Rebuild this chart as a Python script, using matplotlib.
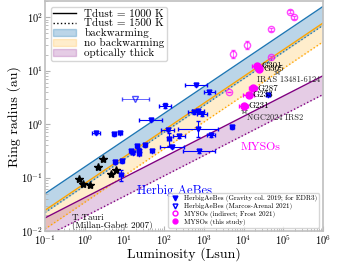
import matplotlib.pyplot as plt
import numpy as np
from matplotlib.lines import Line2D
from matplotlib.patches import Patch

plt.rcParams['font.family'] = 'serif'
plt.rcParams['font.serif'] = ['cmr10']
plt.rcParams['mathtext.fontset'] = 'cm'
plt.rcParams['axes.unicode_minus'] = False
plt.rcParams['axes.formatter.use_mathtext'] = True

# model bands: radius at L = 0.1 and L = 1e6 Lsun
lum_model = [0.1, 1e6]
bw_1000 = [0.05, 158]
bw_1500 = [0.0222, 70.3]
nobw_1000 = [0.0245, 77.5]
nobw_1500 = [0.0109, 34.5]
thick_1000 = [0.0176, 8.0]
thick_1500 = [0.0078, 3.56]

# T Tauri (Millan-Gabet 2007)
tt_lum = [0.72, 0.93, 1.37, 2.2, 2.9, 4.7, 6.3]
tt_rad = [0.093, 0.077, 0.074, 0.158, 0.226, 0.115, 0.137]

# HerbigAeBes (Gravity col. 2019)
hae_lum = [1.9, 5.5, 7.7, 46, 105, 640, 1380, 575, 725, 910, 123, 710, 130, 240,
           1500, 5100, 740, 14.5, 16, 21, 23, 23.5, 33, 49, 158, 5.9, 8.9, 8.1, 41000]
hae_rad = [0.69, 0.64, 0.69, 1.22, 2.22, 5.46, 3.93, 1.66, 1.75, 1.55, 0.79, 0.82, 0.52, 0.59,
           0.62, 0.88, 0.31, 0.31, 0.29, 0.385, 0.32, 0.28, 0.40, 0.32, 0.38, 0.195, 0.205, 0.11, 3.55]
hae_dlum = [0.1, 0.05, 0.05, 0.29, 0.15, 0.28, 0.13, 0.15, 0.15, 0.12, 0.17, 0.5, 0.05, 0.15,
            0.1, 0.05, 0.4, 0.05, 0.05, 0.05, 0.05, 0.05, 0.05, 0.05, 0.3, 0.05, 0.05, 0.05, 0.05]
hae_drad = [0.03, 0.03, 0.03, 0.03, 0.05, 0.03, 0.03, 0.03, 0.03, 0.03, 0.03, 0.15, 0.12, 0.03,
            0.03, 0.03, 0.03, 0.03, 0.03, 0.03, 0.03, 0.03, 0.03, 0.03, 0.03, 0.03, 0.03, 0.1, 0.03]

# HerbigAeBes (Marcos-Arenal 2021)
ma_lum = [18.6]
ma_rad = [2.96]
ma_dlum = [0.34]

# MYSOs (indirect; Frost 2021)
frost_lum = [5400, 12300, 48000, 144000, 182000, 48000, 4270]
frost_rad = [20.4, 30, 59.6, 126, 100, 18.2, 3.93]
frost_drad = [0.08, 0.07, 0.03, 0.03, 0.03, 0.02, 0.0]

# MYSOs (this study)
myso_names = ['G301', 'G305', 'G287', 'G233', 'G231']
myso_lum = [21800, 24500, 17400, 13500, 10200]
myso_rad = [12.3, 10.7, 4.66, 3.52, 2.22]
myso_dlum = [0.12, 0.05, 0.11, 0.14, 0.11]

# other MYSOs
other_names = ['IRAS 13481-6124', 'NGC2024 IRS2']
other_lum = [68000, 10000]
other_rad = [9.6, 1.78]


def dex_err(v, d):
    v = np.asarray(v, float)
    d = np.asarray(d, float)
    return [v - v / 10**d, v * 10**d - v]


fig = plt.figure(figsize=(3.6, 2.65), dpi=100)
ax = fig.add_axes([0.125, 0.128, 0.772, 0.868])

ax.fill_between(lum_model, bw_1000, bw_1500, color='C0', alpha=0.3, lw=0)
ax.plot(lum_model, bw_1000, color='C0', lw=1)
ax.plot(lum_model, bw_1500, color='C0', lw=1, ls=':')
ax.fill_between(lum_model, nobw_1000, nobw_1500, color='orange', alpha=0.2, lw=0)
ax.plot(lum_model, nobw_1000, color='orange', lw=1)
ax.plot(lum_model, nobw_1500, color='orange', lw=1, ls=':')
ax.fill_between(lum_model, thick_1000, thick_1500, color='purple', alpha=0.2, lw=0)
ax.plot(lum_model, thick_1000, color='purple', lw=1)
ax.plot(lum_model, thick_1500, color='purple', lw=1, ls=':')

ax.plot(tt_lum, tt_rad, '*', color='k', ms=6)

ax.errorbar(hae_lum, hae_rad, xerr=dex_err(hae_lum, hae_dlum), yerr=dex_err(hae_rad, hae_drad),
            fmt='v', color='blue', ms=3.5, lw=0.8, capsize=1.5)
ax.errorbar(ma_lum, ma_rad, xerr=dex_err(ma_lum, ma_dlum), fmt='v', mfc='none',
            color='blue', ms=4, lw=0.6, capsize=1.5, alpha=0.7)
ax.errorbar(frost_lum, frost_rad, yerr=dex_err(frost_rad, frost_drad), fmt='o', mfc='none',
            color='magenta', ms=4.5, lw=0.6, capsize=1.5, alpha=0.7)
ax.errorbar(myso_lum, myso_rad, xerr=dex_err(myso_lum, myso_dlum), fmt='o',
            color='magenta', ms=5, lw=0.8, capsize=1.5)
ax.plot(other_lum, other_rad, '*', mfc='none', mec='0.3', ms=4, mew=0.5)

for name, l, r in zip(myso_names, myso_lum, myso_rad):
    ax.annotate(name, (l, r), xytext=(3, 0), textcoords='offset points',
                fontsize=6.5, va='center', ha='left')
ax.text(21400, 6.8, other_names[0], fontsize=6, va='center', ha='left', color='0.15')
ax.text(12600, 1.33, other_names[1], fontsize=6, va='center', ha='left', color='0.15')

ax.text(8260, 0.37, 'MYSOs', color='magenta', fontsize=8.5, va='center')
ax.text(21, 0.056, 'Herbig AeBes', color='blue', fontsize=9, va='center')
ax.text(0.48, 0.018, 'T Tauri', fontsize=6.5, va='center')
ax.text(0.48, 0.0129, '(Millan-Gabet 2007)', fontsize=6.5, va='center')

ax.set_xscale('log')
ax.set_yscale('log')
ax.set_xlim(1e-1, 1e6)
ax.set_ylim(1e-2, 2e2)
ax.set_xticks([10.0**k for k in range(-1, 7)])
ax.set_xlabel('Luminosity (Lsun)', fontsize=10, labelpad=0)
ax.set_ylabel('Ring radius (au)', fontsize=10, labelpad=0)
ax.tick_params(labelsize=7.5, colors='0.7', labelcolor='k', which='both', pad=1.5,
               direction='in')
for s in ax.spines.values():
    s.set_color('0.75')
    s.set_linewidth(1.2)

h1 = [Line2D([], [], color='k', lw=1), Line2D([], [], color='k', lw=1, ls=':'),
      Patch(color='C0', alpha=0.3), Patch(color='orange', alpha=0.2),
      Patch(color='purple', alpha=0.2)]
leg1 = ax.legend(h1, ['Tdust = 1000 K', 'Tdust = 1500 K', 'backwarming', 'no backwarming',
                      'optically thick'], loc='upper left', fontsize=8, labelspacing=0.0,
                 handleheight=0.6, borderpad=0.25)
ax.add_artist(leg1)

h2 = [Line2D([], [], marker='v', color='blue', ls='none', ms=3.5),
      Line2D([], [], marker='v', mfc='none', color='blue', ls='none', ms=3.5),
      Line2D([], [], marker='o', mfc='none', color='magenta', ls='none', ms=3.5),
      Line2D([], [], marker='o', color='magenta', ls='none', ms=3.5)]
ax.legend(h2, ['HerbigAeBes (Gravity col. 2019; for EDR3)', 'HerbigAeBes (Marcos-Arenal 2021)',
               'MYSOs (indirect; Frost 2021)', 'MYSOs (this study)'],
          loc='lower right', fontsize=5, labelspacing=0.1, handlelength=1.2, borderpad=0.3)

fig.savefig('out.png', dpi=100)
